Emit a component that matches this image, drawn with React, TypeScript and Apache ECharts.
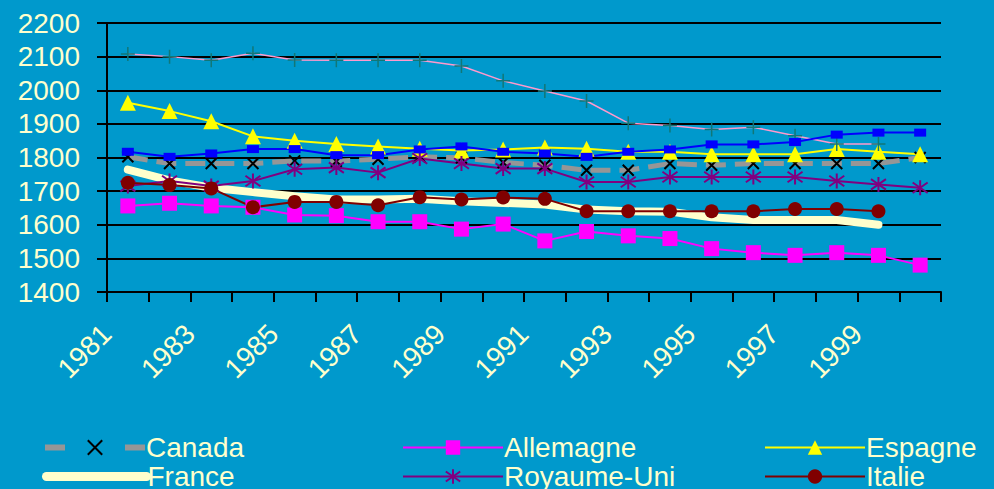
import React, { useEffect, useRef } from "react";
import * as echarts from "echarts";

const years = ["1981","1982","1983","1984","1985","1986","1987","1988","1989","1990","1991","1992","1993","1994","1995","1996","1997","1998","1999","2000"];
const canada = [1802,1782,1782,1782,1790,1789,1795,1802,1799,1785,1777,1762,1762,1782,1777,1782,1782,1782,1782,1800];
const allemagne = [1656,1664,1656,1652,1629,1627,1609,1609,1587,1602,1552,1580,1567,1559,1529,1517,1509,1517,1509,1480];
const espagne = [1963,1938,1908,1863,1850,1840,1833,1826,1821,1824,1830,1826,1817,1817,1810,1810,1810,1825,1817,1810];
const france = [1764,1732,1710,1697,1685,1675,1675,1677,1670,1665,1660,1645,1640,1639,1622,1614,1614,1614,1600,null];
const royaumeUni = [1715,1730,1715,1730,1765,1770,1755,1797,1782,1767,1767,1727,1727,1742,1742,1742,1742,1730,1720,1710];
const italie = [1725,1718,1708,1652,1668,1668,1658,1682,1675,1681,1677,1640,1640,1640,1640,1640,1647,1647,1640,null];
const japon = [2108,2100,2089,2110,2090,2089,2089,2089,2072,2028,1998,1968,1902,1895,1883,1890,1865,1840,1840,null];
const etatsUnis = [1817,1802,1812,1825,1825,1807,1807,1824,1833,1817,1812,1802,1817,1824,1839,1839,1846,1868,1874,1874];

// legend layout: [name, column, row]
const legendCells: [string, number, number][] = [
  ["Canada", 0, 0], ["Allemagne", 1, 0], ["Espagne", 2, 0],
  ["France", 0, 1], ["Royaume-Uni", 1, 1], ["Italie", 2, 1],
  ["Japon", 0, 2], ["États-Unis", 1, 2],
];

const TXT = "#FFFFCC";
const FONT = "'Liberation Sans', Arial, sans-serif";

const legendLine: Record<string, any> = {
  "Canada": { color: "#969696", width: 6, type: [20, 60] },
  "Allemagne": { color: "#FF00FF", width: 2 },
  "Espagne": { color: "#FFFF00", width: 2 },
  "France": { color: "#FFFFCC", width: 9, cap: "round" },
  "Royaume-Uni": { color: "#800080", width: 2 },
  "Italie": { color: "#800000", width: 2 },
  "Japon": { color: "#FF99CC", width: 1.5 },
  "États-Unis": { color: "#0000FF", width: 2 },
};

export default function App() {
  const ref = useRef<HTMLDivElement>(null);
  useEffect(() => {
    if (!ref.current) return;
    const chart = echarts.init(ref.current, null, { renderer: "svg" });
    const colLeft = [42, 402, 764];
    const legends = legendCells.map(([name, c, r]) => ({
      orient: "horizontal",
      left: colLeft[c],
      top: 433 + r * 29,
      padding: 0,
      itemGap: 0,
      itemWidth: 100,
      itemHeight: 18,
      selectedMode: false,
      data: [name],
      lineStyle: legendLine[name],
      ...(name === "France" ? { itemStyle: { opacity: 0 } } : {}),
      textStyle: { color: TXT, fontSize: 28, fontFamily: FONT, lineHeight: 29, padding: [0, 0, 0, -4] },
    }));
    chart.setOption({
      animation: false,
      backgroundColor: "#0099CC",
      textStyle: { fontFamily: FONT },
      grid: { left: 107, right: 53, top: 23, bottom: 197, containLabel: false },
      legend: legends,
      xAxis: {
        type: "category",
        data: years,
        boundaryGap: true,
        axisLine: { show: true, lineStyle: { color: "#000", width: 2 } },
        axisTick: { show: true, interval: 0, length: 10, lineStyle: { color: "#000", width: 2 } },
        axisLabel: {
          interval: 1,
          rotate: 45,
          margin: 16,
          color: TXT,
          fontSize: 28,
          fontFamily: FONT,
          padding: [0, 30, 0, 0],
        },
      },
      yAxis: {
        type: "value",
        min: 1400,
        max: 2200,
        interval: 100,
        axisLine: { show: true, lineStyle: { color: "#000", width: 2 } },
        axisTick: { show: true, length: 10, lineStyle: { color: "#000", width: 2 } },
        splitLine: { show: true, lineStyle: { color: "#000", width: 2 } },
        axisLabel: { color: TXT, fontSize: 28, fontFamily: FONT, margin: 27, formatter: (v: number) => String(v) },
      },
      series: [
        {
          name: "Canada", type: "line", data: canada,
          lineStyle: { color: "#969696", width: 5, type: [20, 9] },
          symbol: "path://M0,0L10,10M10,0L0,10", symbolSize: 11,
          itemStyle: { color: "#000", borderColor: "#000", borderWidth: 2 },
        },
        {
          name: "Allemagne", type: "line", data: allemagne,
          lineStyle: { color: "#FF00FF", width: 2 },
          symbol: "rect", symbolSize: 15,
          itemStyle: { color: "#FF00FF" },
        },
        {
          name: "Espagne", type: "line", data: espagne,
          lineStyle: { color: "#FFFF00", width: 2 },
          symbol: "triangle", symbolSize: 16,
          itemStyle: { color: "#FFFF00" },
        },
        {
          name: "France", type: "line", data: france,
          lineStyle: { color: "#FFFFCC", width: 8, cap: "round", join: "round" },
          symbol: "none",
          itemStyle: { color: "#FFFFCC" },
        },
        {
          name: "Royaume-Uni", type: "line", data: royaumeUni,
          lineStyle: { color: "#800080", width: 2 },
          symbol: "path://M5,0L5,10M0.5,1.5L9.5,8.5M9.5,1.5L0.5,8.5", symbolSize: 15,
          itemStyle: { color: "#800080", borderColor: "#800080", borderWidth: 2 },
        },
        {
          name: "Italie", type: "line", data: italie,
          lineStyle: { color: "#800000", width: 2 },
          symbol: "circle", symbolSize: 14,
          itemStyle: { color: "#800000" },
        },
        {
          name: "Japon", type: "line", data: japon,
          lineStyle: { color: "#FF99CC", width: 1.5 },
          symbol: "path://M5,0L5,10M0,5L10,5", symbolSize: 14,
          itemStyle: { color: "#117777", borderColor: "#117777", borderWidth: 1.5 },
        },
        {
          name: "États-Unis", type: "line", data: etatsUnis,
          lineStyle: { color: "#0000FF", width: 2 },
          symbol: "rect", symbolSize: [12, 8],
          itemStyle: { color: "#0000FF" },
        },
      ],
    });
    return () => chart.dispose();
  }, []);
  return <div ref={ref} style={{ position: "fixed", left: 0, top: 0, width: 994, height: 489 }} />;
}
